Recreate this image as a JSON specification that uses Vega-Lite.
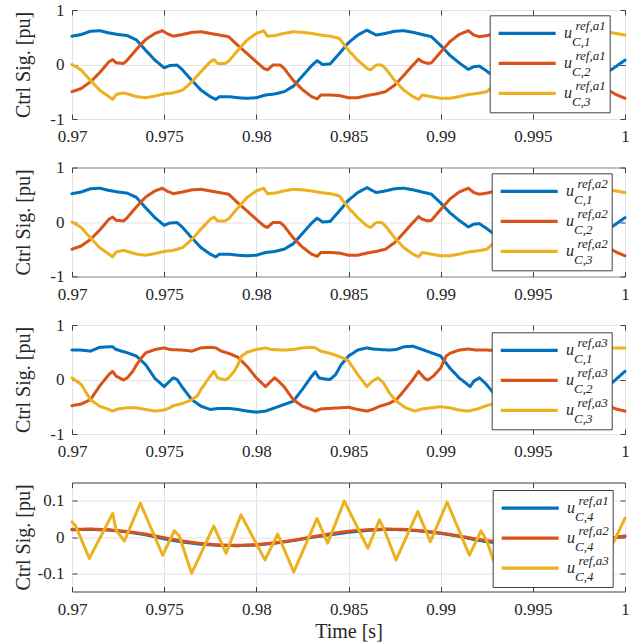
{
"$schema":"https://vega.github.io/schema/vega-lite/v6.json",
"background":"white",
"padding":{"left":12,"top":0,"right":0,"bottom":0},
"bounds":"flush",
"spacing":48.5,
"config":{
 "font":"Liberation Serif",
 "view":{"stroke":"#404040","strokeWidth":1},
 "axis":{"labelFont":"Liberation Serif","labelFontSize":17,"labelColor":"#262626","titleFont":"Liberation Serif","titleFontSize":20,"titleColor":"#262626","titleFontWeight":"normal","domain":false,"tickColor":"#404040","tickSize":-5,"gridColor":"#e3e3e3","gridWidth":1,"labelFlush":false,"labelOverlap":false},
 "axisX":{"labelPadding":14.8},
 "axisY":{"labelPadding":13},
 "legend":{"labelFont":"Liberation Serif","labelColor":"#262626","title":null,"symbolType":"stroke","symbolSize":3249,"symbolStrokeWidth":3.2,"clipHeight":29.3,"rowPadding":0,"padding":3.5,"labelFontStyle":"italic"}
},
"datasets":{
"p1":[
{"t":0.9700,"s":"1","v":0.52},{"t":0.9705,"s":"1","v":0.55},{"t":0.9710,"s":"1","v":0.61},{"t":0.9715,"s":"1","v":0.62},{"t":0.9720,"s":"1","v":0.58},{"t":0.9725,"s":"1","v":0.55},{"t":0.9730,"s":"1","v":0.53},{"t":0.9735,"s":"1","v":0.45},{"t":0.9740,"s":"1","v":0.26},{"t":0.9745,"s":"1","v":0.08},{"t":0.9750,"s":"1","v":-0.06},{"t":0.9753,"s":"1","v":-0.02},{"t":0.9757,"s":"1","v":-0.01},{"t":0.9760,"s":"1","v":-0.10},{"t":0.9765,"s":"1","v":-0.29},{"t":0.9770,"s":"1","v":-0.47},{"t":0.9775,"s":"1","v":-0.59},{"t":0.9778,"s":"1","v":-0.64},{"t":0.9780,"s":"1","v":-0.59},{"t":0.9785,"s":"1","v":-0.59},{"t":0.9790,"s":"1","v":-0.61},{"t":0.9795,"s":"1","v":-0.62},{"t":0.9800,"s":"1","v":-0.61},{"t":0.9805,"s":"1","v":-0.56},{"t":0.9810,"s":"1","v":-0.54},{"t":0.9815,"s":"1","v":-0.50},{"t":0.9820,"s":"1","v":-0.40},{"t":0.9825,"s":"1","v":-0.21},{"t":0.9830,"s":"1","v":-0.02},{"t":0.9833,"s":"1","v":0.07},{"t":0.9836,"s":"1","v":0.00},{"t":0.9840,"s":"1","v":0.01},{"t":0.9845,"s":"1","v":0.20},{"t":0.9850,"s":"1","v":0.40},{"t":0.9855,"s":"1","v":0.54},{"t":0.9860,"s":"1","v":0.63},{"t":0.9865,"s":"1","v":0.54},{"t":0.9870,"s":"1","v":0.57},{"t":0.9875,"s":"1","v":0.61},{"t":0.9880,"s":"1","v":0.62},{"t":0.9885,"s":"1","v":0.59},{"t":0.9890,"s":"1","v":0.55},{"t":0.9895,"s":"1","v":0.51},{"t":0.9900,"s":"1","v":0.35},{"t":0.9905,"s":"1","v":0.17},{"t":0.9910,"s":"1","v":0.03},{"t":0.9915,"s":"1","v":-0.09},{"t":0.9918,"s":"1","v":-0.04},{"t":0.9921,"s":"1","v":-0.03},{"t":0.9925,"s":"1","v":-0.12},{"t":0.9930,"s":"1","v":-0.25},{"t":0.9935,"s":"1","v":-0.42},{"t":0.9940,"s":"1","v":-0.55},{"t":0.9945,"s":"1","v":-0.64},{"t":0.9950,"s":"1","v":-0.59},{"t":0.9955,"s":"1","v":-0.60},{"t":0.9960,"s":"1","v":-0.62},{"t":0.9965,"s":"1","v":-0.61},{"t":0.9970,"s":"1","v":-0.58},{"t":0.9975,"s":"1","v":-0.55},{"t":0.9980,"s":"1","v":-0.52},{"t":0.9985,"s":"1","v":-0.35},{"t":0.9990,"s":"1","v":-0.15},{"t":0.9995,"s":"1","v":-0.04},{"t":1.0000,"s":"1","v":0.08},
{"t":0.9700,"s":"2","v":-0.50},{"t":0.9705,"s":"2","v":-0.44},{"t":0.9710,"s":"2","v":-0.32},{"t":0.9715,"s":"2","v":-0.15},{"t":0.9720,"s":"2","v":0.05},{"t":0.9722,"s":"2","v":0.09},{"t":0.9724,"s":"2","v":0.03},{"t":0.9728,"s":"2","v":0.02},{"t":0.9730,"s":"2","v":0.08},{"t":0.9735,"s":"2","v":0.28},{"t":0.9740,"s":"2","v":0.46},{"t":0.9745,"s":"2","v":0.57},{"t":0.9749,"s":"2","v":0.62},{"t":0.9752,"s":"2","v":0.56},{"t":0.9755,"s":"2","v":0.52},{"t":0.9760,"s":"2","v":0.55},{"t":0.9765,"s":"2","v":0.59},{"t":0.9770,"s":"2","v":0.60},{"t":0.9775,"s":"2","v":0.57},{"t":0.9780,"s":"2","v":0.54},{"t":0.9785,"s":"2","v":0.51},{"t":0.9790,"s":"2","v":0.35},{"t":0.9795,"s":"2","v":0.20},{"t":0.9800,"s":"2","v":0.05},{"t":0.9804,"s":"2","v":-0.07},{"t":0.9806,"s":"2","v":-0.10},{"t":0.9809,"s":"2","v":-0.01},{"t":0.9813,"s":"2","v":-0.01},{"t":0.9815,"s":"2","v":-0.07},{"t":0.9820,"s":"2","v":-0.29},{"t":0.9825,"s":"2","v":-0.46},{"t":0.9830,"s":"2","v":-0.59},{"t":0.9833,"s":"2","v":-0.63},{"t":0.9835,"s":"2","v":-0.56},{"t":0.9840,"s":"2","v":-0.56},{"t":0.9845,"s":"2","v":-0.57},{"t":0.9850,"s":"2","v":-0.61},{"t":0.9855,"s":"2","v":-0.61},{"t":0.9860,"s":"2","v":-0.57},{"t":0.9865,"s":"2","v":-0.54},{"t":0.9870,"s":"2","v":-0.50},{"t":0.9875,"s":"2","v":-0.38},{"t":0.9880,"s":"2","v":-0.20},{"t":0.9885,"s":"2","v":-0.01},{"t":0.9888,"s":"2","v":0.10},{"t":0.9890,"s":"2","v":0.05},{"t":0.9893,"s":"2","v":0.02},{"t":0.9895,"s":"2","v":0.03},{"t":0.9900,"s":"2","v":0.23},{"t":0.9905,"s":"2","v":0.42},{"t":0.9910,"s":"2","v":0.55},{"t":0.9915,"s":"2","v":0.62},{"t":0.9918,"s":"2","v":0.54},{"t":0.9921,"s":"2","v":0.51},{"t":0.9925,"s":"2","v":0.53},{"t":0.9930,"s":"2","v":0.57},{"t":0.9935,"s":"2","v":0.60},{"t":0.9940,"s":"2","v":0.58},{"t":0.9945,"s":"2","v":0.55},{"t":0.9950,"s":"2","v":0.51},{"t":0.9955,"s":"2","v":0.36},{"t":0.9960,"s":"2","v":0.20},{"t":0.9965,"s":"2","v":0.05},{"t":0.9970,"s":"2","v":-0.08},{"t":0.9975,"s":"2","v":0.00},{"t":0.9980,"s":"2","v":-0.05},{"t":0.9985,"s":"2","v":-0.27},{"t":0.9990,"s":"2","v":-0.45},{"t":0.9995,"s":"2","v":-0.55},{"t":1.0000,"s":"2","v":-0.62},
{"t":0.9700,"s":"3","v":0.00},{"t":0.9705,"s":"3","v":-0.10},{"t":0.9710,"s":"3","v":-0.29},{"t":0.9715,"s":"3","v":-0.47},{"t":0.9720,"s":"3","v":-0.59},{"t":0.9722,"s":"3","v":-0.64},{"t":0.9724,"s":"3","v":-0.55},{"t":0.9728,"s":"3","v":-0.52},{"t":0.9730,"s":"3","v":-0.54},{"t":0.9735,"s":"3","v":-0.59},{"t":0.9740,"s":"3","v":-0.61},{"t":0.9745,"s":"3","v":-0.58},{"t":0.9750,"s":"3","v":-0.54},{"t":0.9755,"s":"3","v":-0.52},{"t":0.9760,"s":"3","v":-0.47},{"t":0.9765,"s":"3","v":-0.32},{"t":0.9770,"s":"3","v":-0.13},{"t":0.9775,"s":"3","v":0.05},{"t":0.9777,"s":"3","v":0.09},{"t":0.9779,"s":"3","v":0.02},{"t":0.9783,"s":"3","v":0.02},{"t":0.9785,"s":"3","v":0.06},{"t":0.9790,"s":"3","v":0.26},{"t":0.9795,"s":"3","v":0.45},{"t":0.9800,"s":"3","v":0.57},{"t":0.9804,"s":"3","v":0.62},{"t":0.9806,"s":"3","v":0.52},{"t":0.9810,"s":"3","v":0.53},{"t":0.9815,"s":"3","v":0.57},{"t":0.9820,"s":"3","v":0.60},{"t":0.9825,"s":"3","v":0.59},{"t":0.9830,"s":"3","v":0.57},{"t":0.9835,"s":"3","v":0.54},{"t":0.9840,"s":"3","v":0.52},{"t":0.9845,"s":"3","v":0.48},{"t":0.9850,"s":"3","v":0.26},{"t":0.9855,"s":"3","v":0.08},{"t":0.9860,"s":"3","v":-0.07},{"t":0.9862,"s":"3","v":-0.10},{"t":0.9865,"s":"3","v":-0.01},{"t":0.9868,"s":"3","v":-0.01},{"t":0.9870,"s":"3","v":-0.07},{"t":0.9875,"s":"3","v":-0.29},{"t":0.9880,"s":"3","v":-0.47},{"t":0.9885,"s":"3","v":-0.59},{"t":0.9888,"s":"3","v":-0.64},{"t":0.9890,"s":"3","v":-0.56},{"t":0.9895,"s":"3","v":-0.59},{"t":0.9900,"s":"3","v":-0.62},{"t":0.9905,"s":"3","v":-0.62},{"t":0.9910,"s":"3","v":-0.59},{"t":0.9915,"s":"3","v":-0.55},{"t":0.9920,"s":"3","v":-0.53},{"t":0.9925,"s":"3","v":-0.50},{"t":0.9930,"s":"3","v":-0.35},{"t":0.9935,"s":"3","v":-0.15},{"t":0.9940,"s":"3","v":0.04},{"t":0.9943,"s":"3","v":0.09},{"t":0.9945,"s":"3","v":0.02},{"t":0.9950,"s":"3","v":0.05},{"t":0.9955,"s":"3","v":0.25},{"t":0.9960,"s":"3","v":0.44},{"t":0.9965,"s":"3","v":0.57},{"t":0.9970,"s":"3","v":0.62},{"t":0.9975,"s":"3","v":0.53},{"t":0.9980,"s":"3","v":0.56},{"t":0.9985,"s":"3","v":0.59},{"t":0.9990,"s":"3","v":0.60},{"t":0.9995,"s":"3","v":0.57},{"t":1.0000,"s":"3","v":0.54}
],
"p3":[
{"t":0.9700,"s":"1","v":0.54},{"t":0.9705,"s":"1","v":0.54},{"t":0.9710,"s":"1","v":0.52},{"t":0.9715,"s":"1","v":0.59},{"t":0.9720,"s":"1","v":0.60},{"t":0.9722,"s":"1","v":0.60},{"t":0.9724,"s":"1","v":0.55},{"t":0.9728,"s":"1","v":0.51},{"t":0.9730,"s":"1","v":0.49},{"t":0.9735,"s":"1","v":0.43},{"t":0.9740,"s":"1","v":0.27},{"t":0.9745,"s":"1","v":0.02},{"t":0.9750,"s":"1","v":-0.13},{"t":0.9753,"s":"1","v":-0.03},{"t":0.9755,"s":"1","v":0.03},{"t":0.9757,"s":"1","v":0.00},{"t":0.9760,"s":"1","v":-0.15},{"t":0.9765,"s":"1","v":-0.37},{"t":0.9770,"s":"1","v":-0.49},{"t":0.9775,"s":"1","v":-0.55},{"t":0.9780,"s":"1","v":-0.53},{"t":0.9785,"s":"1","v":-0.53},{"t":0.9790,"s":"1","v":-0.55},{"t":0.9795,"s":"1","v":-0.58},{"t":0.9800,"s":"1","v":-0.60},{"t":0.9805,"s":"1","v":-0.58},{"t":0.9810,"s":"1","v":-0.52},{"t":0.9815,"s":"1","v":-0.46},{"t":0.9820,"s":"1","v":-0.40},{"t":0.9825,"s":"1","v":-0.18},{"t":0.9830,"s":"1","v":0.06},{"t":0.9832,"s":"1","v":0.14},{"t":0.9834,"s":"1","v":0.03},{"t":0.9837,"s":"1","v":0.01},{"t":0.9840,"s":"1","v":0.00},{"t":0.9843,"s":"1","v":0.09},{"t":0.9846,"s":"1","v":0.27},{"t":0.9850,"s":"1","v":0.43},{"t":0.9855,"s":"1","v":0.54},{"t":0.9860,"s":"1","v":0.58},{"t":0.9863,"s":"1","v":0.56},{"t":0.9867,"s":"1","v":0.55},{"t":0.9872,"s":"1","v":0.54},{"t":0.9876,"s":"1","v":0.55},{"t":0.9880,"s":"1","v":0.60},{"t":0.9885,"s":"1","v":0.61},{"t":0.9890,"s":"1","v":0.55},{"t":0.9895,"s":"1","v":0.49},{"t":0.9900,"s":"1","v":0.43},{"t":0.9905,"s":"1","v":0.21},{"t":0.9910,"s":"1","v":0.03},{"t":0.9916,"s":"1","v":-0.13},{"t":0.9918,"s":"1","v":-0.03},{"t":0.9921,"s":"1","v":0.03},{"t":0.9924,"s":"1","v":-0.06},{"t":0.9927,"s":"1","v":-0.18},{"t":0.9930,"s":"1","v":-0.30},{"t":0.9935,"s":"1","v":-0.45},{"t":0.9940,"s":"1","v":-0.52},{"t":0.9945,"s":"1","v":-0.55},{"t":0.9950,"s":"1","v":-0.53},{"t":0.9955,"s":"1","v":-0.54},{"t":0.9960,"s":"1","v":-0.57},{"t":0.9965,"s":"1","v":-0.60},{"t":0.9970,"s":"1","v":-0.59},{"t":0.9975,"s":"1","v":-0.53},{"t":0.9980,"s":"1","v":-0.46},{"t":0.9985,"s":"1","v":-0.38},{"t":0.9990,"s":"1","v":-0.15},{"t":0.9995,"s":"1","v":0.00},{"t":1.0000,"s":"1","v":0.15},
{"t":0.9700,"s":"2","v":-0.48},{"t":0.9705,"s":"2","v":-0.45},{"t":0.9710,"s":"2","v":-0.37},{"t":0.9715,"s":"2","v":-0.12},{"t":0.9720,"s":"2","v":0.09},{"t":0.9722,"s":"2","v":0.15},{"t":0.9724,"s":"2","v":0.06},{"t":0.9728,"s":"2","v":-0.01},{"t":0.9730,"s":"2","v":0.03},{"t":0.9733,"s":"2","v":0.15},{"t":0.9735,"s":"2","v":0.27},{"t":0.9738,"s":"2","v":0.41},{"t":0.9740,"s":"2","v":0.49},{"t":0.9745,"s":"2","v":0.55},{"t":0.9750,"s":"2","v":0.58},{"t":0.9753,"s":"2","v":0.55},{"t":0.9760,"s":"2","v":0.54},{"t":0.9765,"s":"2","v":0.52},{"t":0.9770,"s":"2","v":0.58},{"t":0.9775,"s":"2","v":0.59},{"t":0.9778,"s":"2","v":0.58},{"t":0.9781,"s":"2","v":0.52},{"t":0.9785,"s":"2","v":0.48},{"t":0.9790,"s":"2","v":0.41},{"t":0.9792,"s":"2","v":0.34},{"t":0.9795,"s":"2","v":0.24},{"t":0.9800,"s":"2","v":0.03},{"t":0.9805,"s":"2","v":-0.13},{"t":0.9808,"s":"2","v":-0.03},{"t":0.9810,"s":"2","v":0.03},{"t":0.9812,"s":"2","v":-0.03},{"t":0.9815,"s":"2","v":-0.13},{"t":0.9820,"s":"2","v":-0.37},{"t":0.9825,"s":"2","v":-0.49},{"t":0.9830,"s":"2","v":-0.55},{"t":0.9832,"s":"2","v":-0.58},{"t":0.9835,"s":"2","v":-0.54},{"t":0.9840,"s":"2","v":-0.53},{"t":0.9845,"s":"2","v":-0.52},{"t":0.9850,"s":"2","v":-0.51},{"t":0.9855,"s":"2","v":-0.55},{"t":0.9860,"s":"2","v":-0.58},{"t":0.9863,"s":"2","v":-0.55},{"t":0.9867,"s":"2","v":-0.49},{"t":0.9872,"s":"2","v":-0.44},{"t":0.9876,"s":"2","v":-0.37},{"t":0.9880,"s":"2","v":-0.21},{"t":0.9885,"s":"2","v":0.00},{"t":0.9888,"s":"2","v":0.15},{"t":0.9891,"s":"2","v":0.03},{"t":0.9893,"s":"2","v":-0.01},{"t":0.9896,"s":"2","v":0.06},{"t":0.9900,"s":"2","v":0.21},{"t":0.9903,"s":"2","v":0.43},{"t":0.9905,"s":"2","v":0.48},{"t":0.9910,"s":"2","v":0.54},{"t":0.9915,"s":"2","v":0.56},{"t":0.9919,"s":"2","v":0.54},{"t":0.9925,"s":"2","v":0.54},{"t":0.9930,"s":"2","v":0.53},{"t":0.9935,"s":"2","v":0.55},{"t":0.9940,"s":"2","v":0.58},{"t":0.9945,"s":"2","v":0.58},{"t":0.9950,"s":"2","v":0.50},{"t":0.9955,"s":"2","v":0.41},{"t":0.9960,"s":"2","v":0.25},{"t":0.9965,"s":"2","v":0.03},{"t":0.9970,"s":"2","v":-0.13},{"t":0.9975,"s":"2","v":0.03},{"t":0.9980,"s":"2","v":-0.10},{"t":0.9985,"s":"2","v":-0.35},{"t":0.9990,"s":"2","v":-0.47},{"t":0.9995,"s":"2","v":-0.54},{"t":1.0000,"s":"2","v":-0.58},
{"t":0.9700,"s":"3","v":0.03},{"t":0.9705,"s":"3","v":-0.09},{"t":0.9710,"s":"3","v":-0.37},{"t":0.9715,"s":"3","v":-0.49},{"t":0.9720,"s":"3","v":-0.55},{"t":0.9722,"s":"3","v":-0.58},{"t":0.9725,"s":"3","v":-0.54},{"t":0.9730,"s":"3","v":-0.52},{"t":0.9735,"s":"3","v":-0.52},{"t":0.9740,"s":"3","v":-0.55},{"t":0.9745,"s":"3","v":-0.58},{"t":0.9750,"s":"3","v":-0.56},{"t":0.9753,"s":"3","v":-0.52},{"t":0.9755,"s":"3","v":-0.48},{"t":0.9760,"s":"3","v":-0.44},{"t":0.9765,"s":"3","v":-0.37},{"t":0.9768,"s":"3","v":-0.30},{"t":0.9770,"s":"3","v":-0.18},{"t":0.9775,"s":"3","v":0.06},{"t":0.9777,"s":"3","v":0.15},{"t":0.9779,"s":"3","v":0.03},{"t":0.9783,"s":"3","v":-0.01},{"t":0.9785,"s":"3","v":0.03},{"t":0.9788,"s":"3","v":0.15},{"t":0.9790,"s":"3","v":0.27},{"t":0.9792,"s":"3","v":0.43},{"t":0.9795,"s":"3","v":0.50},{"t":0.9800,"s":"3","v":0.55},{"t":0.9805,"s":"3","v":0.58},{"t":0.9808,"s":"3","v":0.55},{"t":0.9815,"s":"3","v":0.54},{"t":0.9820,"s":"3","v":0.55},{"t":0.9825,"s":"3","v":0.58},{"t":0.9830,"s":"3","v":0.59},{"t":0.9832,"s":"3","v":0.58},{"t":0.9835,"s":"3","v":0.52},{"t":0.9840,"s":"3","v":0.48},{"t":0.9845,"s":"3","v":0.42},{"t":0.9848,"s":"3","v":0.38},{"t":0.9850,"s":"3","v":0.34},{"t":0.9855,"s":"3","v":0.09},{"t":0.9860,"s":"3","v":-0.13},{"t":0.9863,"s":"3","v":-0.03},{"t":0.9866,"s":"3","v":0.03},{"t":0.9869,"s":"3","v":-0.06},{"t":0.9872,"s":"3","v":-0.24},{"t":0.9876,"s":"3","v":-0.40},{"t":0.9881,"s":"3","v":-0.52},{"t":0.9886,"s":"3","v":-0.58},{"t":0.9890,"s":"3","v":-0.54},{"t":0.9895,"s":"3","v":-0.52},{"t":0.9900,"s":"3","v":-0.50},{"t":0.9905,"s":"3","v":-0.52},{"t":0.9910,"s":"3","v":-0.56},{"t":0.9915,"s":"3","v":-0.58},{"t":0.9920,"s":"3","v":-0.54},{"t":0.9924,"s":"3","v":-0.49},{"t":0.9927,"s":"3","v":-0.46},{"t":0.9930,"s":"3","v":-0.40},{"t":0.9935,"s":"3","v":-0.22},{"t":0.9940,"s":"3","v":0.05},{"t":0.9943,"s":"3","v":0.15},{"t":0.9945,"s":"3","v":0.03},{"t":0.9950,"s":"3","v":0.00},{"t":0.9953,"s":"3","v":0.15},{"t":0.9955,"s":"3","v":0.27},{"t":0.9958,"s":"3","v":0.45},{"t":0.9962,"s":"3","v":0.52},{"t":0.9967,"s":"3","v":0.56},{"t":0.9972,"s":"3","v":0.58},{"t":0.9975,"s":"3","v":0.55},{"t":0.9980,"s":"3","v":0.54},{"t":0.9985,"s":"3","v":0.55},{"t":0.9990,"s":"3","v":0.58},{"t":0.9995,"s":"3","v":0.58},{"t":1.0000,"s":"3","v":0.58}
],
"p4":[
{"t":0.970,"s":"1","v":0.020},{"t":0.971,"s":"1","v":0.021},{"t":0.972,"s":"1","v":0.019},{"t":0.973,"s":"1","v":0.014},{"t":0.974,"s":"1","v":0.006},{"t":0.975,"s":"1","v":-0.005},{"t":0.976,"s":"1","v":-0.014},{"t":0.977,"s":"1","v":-0.020},{"t":0.978,"s":"1","v":-0.023},{"t":0.979,"s":"1","v":-0.024},{"t":0.980,"s":"1","v":-0.022},{"t":0.981,"s":"1","v":-0.017},{"t":0.982,"s":"1","v":-0.010},{"t":0.983,"s":"1","v":-0.001},{"t":0.984,"s":"1","v":0.006},{"t":0.985,"s":"1","v":0.013},{"t":0.986,"s":"1","v":0.018},{"t":0.987,"s":"1","v":0.021},{"t":0.988,"s":"1","v":0.020},{"t":0.989,"s":"1","v":0.016},{"t":0.990,"s":"1","v":0.010},{"t":0.991,"s":"1","v":0.002},{"t":0.992,"s":"1","v":-0.009},{"t":0.993,"s":"1","v":-0.016},{"t":0.994,"s":"1","v":-0.021},{"t":0.995,"s":"1","v":-0.023},{"t":0.996,"s":"1","v":-0.023},{"t":0.997,"s":"1","v":-0.020},{"t":0.998,"s":"1","v":-0.014},{"t":0.999,"s":"1","v":-0.005},{"t":1.000,"s":"1","v":0.002},
{"t":0.970,"s":"2","v":0.021},{"t":0.971,"s":"2","v":0.022},{"t":0.972,"s":"2","v":0.020},{"t":0.973,"s":"2","v":0.015},{"t":0.974,"s":"2","v":0.008},{"t":0.975,"s":"2","v":-0.002},{"t":0.976,"s":"2","v":-0.011},{"t":0.977,"s":"2","v":-0.018},{"t":0.978,"s":"2","v":-0.022},{"t":0.979,"s":"2","v":-0.023},{"t":0.980,"s":"2","v":-0.021},{"t":0.981,"s":"2","v":-0.016},{"t":0.982,"s":"2","v":-0.009},{"t":0.983,"s":"2","v":0.000},{"t":0.984,"s":"2","v":0.009},{"t":0.985,"s":"2","v":0.016},{"t":0.986,"s":"2","v":0.020},{"t":0.987,"s":"2","v":0.022},{"t":0.988,"s":"2","v":0.021},{"t":0.989,"s":"2","v":0.017},{"t":0.990,"s":"2","v":0.011},{"t":0.991,"s":"2","v":0.003},{"t":0.992,"s":"2","v":-0.006},{"t":0.993,"s":"2","v":-0.013},{"t":0.994,"s":"2","v":-0.019},{"t":0.995,"s":"2","v":-0.022},{"t":0.996,"s":"2","v":-0.022},{"t":0.997,"s":"2","v":-0.019},{"t":0.998,"s":"2","v":-0.013},{"t":0.999,"s":"2","v":-0.004},{"t":1.000,"s":"2","v":0.003},
{"t":0.97000,"s":"3","v":0.042},{"t":0.97020,"s":"3","v":0.030},{"t":0.97094,"s":"3","v":-0.059},{"t":0.97221,"s":"3","v":0.065},{"t":0.97239,"s":"3","v":0.019},{"t":0.97284,"s":"3","v":-0.011},{"t":0.97371,"s":"3","v":0.093},{"t":0.97492,"s":"3","v":-0.050},{"t":0.97555,"s":"3","v":0.017},{"t":0.97582,"s":"3","v":0.003},{"t":0.97649,"s":"3","v":-0.100},{"t":0.97769,"s":"3","v":0.030},{"t":0.97836,"s":"3","v":-0.045},{"t":0.97917,"s":"3","v":0.061},{"t":0.98047,"s":"3","v":-0.063},{"t":0.98116,"s":"3","v":0.008},{"t":0.98203,"s":"3","v":-0.096},{"t":0.98329,"s":"3","v":0.051},{"t":0.98387,"s":"3","v":-0.017},{"t":0.98477,"s":"3","v":0.099},{"t":0.98605,"s":"3","v":-0.031},{"t":0.98668,"s":"3","v":0.047},{"t":0.98695,"s":"3","v":0.019},{"t":0.98758,"s":"3","v":-0.063},{"t":0.98876,"s":"3","v":0.070},{"t":0.98944,"s":"3","v":-0.013},{"t":0.99035,"s":"3","v":0.096},{"t":0.99156,"s":"3","v":-0.050},{"t":0.99219,"s":"3","v":0.017},{"t":0.99250,"s":"3","v":-0.010},{"t":0.99310,"s":"3","v":-0.100},{"t":0.99430,"s":"3","v":0.030},{"t":0.99500,"s":"3","v":-0.045},{"t":0.99585,"s":"3","v":0.061},{"t":0.99715,"s":"3","v":-0.063},{"t":0.99785,"s":"3","v":0.008},{"t":0.99865,"s":"3","v":-0.092},{"t":1.00000,"s":"3","v":0.052}
]
},
"resolve":{"scale":{"color":"independent","strokeDash":"independent","opacity":"independent"},"legend":{"color":"independent","strokeDash":"independent","opacity":"independent"}},
"vconcat":[
{"width":553,"height":109,"data":{"name":"p1"},
 "resolve":{"axis":{"x":"independent","y":"independent"}},
 "layer":[
  {"mark":{"type":"line","strokeWidth":3,"strokeJoin":"round","strokeCap":"round"},
   "encoding":{
    "x":{"field":"t","type":"quantitative","scale":{"domain":[0.97,1],"nice":false,"zero":false},"axis":{"values":[0.97,0.975,0.98,0.985,0.99,0.995,1],"labelExpr":"'' + datum.value","title":null,"grid":true}},
    "y":{"field":"v","type":"quantitative","scale":{"domain":[-1,1],"nice":false,"zero":false},"axis":{"values":[-1,0,1],"labelExpr":"'' + datum.value","title":"Ctrl Sig. [pu]","titleX":-49,"titleBaseline":"middle","grid":true}},
    "color":{"field":"s","type":"nominal","scale":{"domain":["1","2","3"],"range":["#0072BD","#D95319","#EDB120"]},"legend":{"orient":"none","legendX":417.7,"legendY":5.3,"symbolOffset":3.5,"labelOffset":17.8,"labelExpr":"'ref,a1'","labelFontSize":13,"labelBaseline":"bottom","strokeColor":"#404040","fillColor":"#ffffff"}},
    "strokeDash":{"field":"s","type":"nominal","scale":{"domain":{"unionWith":["1"]},"range":[[1,0],[1,0],[1,0]]},"legend":{"orient":"none","legendX":417.7,"legendY":5.3,"symbolOpacity":0,"symbolStrokeColor":"transparent","labelOffset":9.8,"labelExpr":"'u'","labelFontSize":16}},
    "opacity":{"field":"s","type":"nominal","scale":{"range":[1,1,1]},"legend":{"orient":"none","legendX":417.7,"legendY":14.3,"symbolOpacity":0,"symbolStrokeColor":"transparent","labelOffset":17.8,"labelExpr":"'C,' + datum.label","labelFontSize":13}}
   }},
  {"mark":{"type":"point","opacity":0},
   "encoding":{
    "x":{"field":"t","type":"quantitative","axis":{"orient":"top","values":[0.97,0.975,0.98,0.985,0.99,0.995,1],"labels":false,"grid":false,"title":null}},
    "y":{"field":"v","type":"quantitative","axis":{"orient":"right","values":[-1,0,1],"labels":false,"grid":false,"title":null}}
   }}
 ]},
{"width":553,"height":109,"data":{"name":"p1"},
 "resolve":{"axis":{"x":"independent","y":"independent"}},
 "layer":[
  {"mark":{"type":"line","strokeWidth":3,"strokeJoin":"round","strokeCap":"round"},
   "encoding":{
    "x":{"field":"t","type":"quantitative","scale":{"domain":[0.97,1],"nice":false,"zero":false},"axis":{"values":[0.97,0.975,0.98,0.985,0.99,0.995,1],"labelExpr":"'' + datum.value","title":null,"grid":true}},
    "y":{"field":"v","type":"quantitative","scale":{"domain":[-1,1],"nice":false,"zero":false},"axis":{"values":[-1,0,1],"labelExpr":"'' + datum.value","title":"Ctrl Sig. [pu]","titleX":-49,"titleBaseline":"middle","grid":true}},
    "color":{"field":"s","type":"nominal","scale":{"domain":["1","2","3"],"range":["#0072BD","#D95319","#EDB120"]},"legend":{"orient":"none","legendX":419.7,"legendY":5.8,"symbolOffset":3.5,"labelOffset":17.8,"labelExpr":"'ref,a2'","labelFontSize":13,"labelBaseline":"bottom","strokeColor":"#404040","fillColor":"#ffffff"}},
    "strokeDash":{"field":"s","type":"nominal","scale":{"domain":{"unionWith":["1"]},"range":[[1,0],[1,0],[1,0]]},"legend":{"orient":"none","legendX":419.7,"legendY":5.8,"symbolOpacity":0,"symbolStrokeColor":"transparent","labelOffset":9.8,"labelExpr":"'u'","labelFontSize":16}},
    "opacity":{"field":"s","type":"nominal","scale":{"range":[1,1,1]},"legend":{"orient":"none","legendX":419.7,"legendY":14.8,"symbolOpacity":0,"symbolStrokeColor":"transparent","labelOffset":17.8,"labelExpr":"'C,' + datum.label","labelFontSize":13}}
   }},
  {"mark":{"type":"point","opacity":0},
   "encoding":{
    "x":{"field":"t","type":"quantitative","axis":{"orient":"top","values":[0.97,0.975,0.98,0.985,0.99,0.995,1],"labels":false,"grid":false,"title":null}},
    "y":{"field":"v","type":"quantitative","axis":{"orient":"right","values":[-1,0,1],"labels":false,"grid":false,"title":null}}
   }}
 ]},
{"width":553,"height":109,"data":{"name":"p3"},
 "resolve":{"axis":{"x":"independent","y":"independent"}},
 "layer":[
  {"mark":{"type":"line","strokeWidth":3,"strokeJoin":"round","strokeCap":"round"},
   "encoding":{
    "x":{"field":"t","type":"quantitative","scale":{"domain":[0.97,1],"nice":false,"zero":false},"axis":{"values":[0.97,0.975,0.98,0.985,0.99,0.995,1],"labelExpr":"'' + datum.value","title":null,"grid":true}},
    "y":{"field":"v","type":"quantitative","scale":{"domain":[-1,1],"nice":false,"zero":false},"axis":{"values":[-1,0,1],"labelExpr":"'' + datum.value","title":"Ctrl Sig. [pu]","titleX":-49,"titleBaseline":"middle","grid":true}},
    "color":{"field":"s","type":"nominal","scale":{"domain":["1","2","3"],"range":["#0072BD","#D95319","#EDB120"]},"legend":{"orient":"none","legendX":419.7,"legendY":7.3,"symbolOffset":3.5,"labelOffset":17.8,"labelExpr":"'ref,a3'","labelFontSize":13,"labelBaseline":"bottom","strokeColor":"#404040","fillColor":"#ffffff"}},
    "strokeDash":{"field":"s","type":"nominal","scale":{"domain":{"unionWith":["1"]},"range":[[1,0],[1,0],[1,0]]},"legend":{"orient":"none","legendX":419.7,"legendY":7.3,"symbolOpacity":0,"symbolStrokeColor":"transparent","labelOffset":9.8,"labelExpr":"'u'","labelFontSize":16}},
    "opacity":{"field":"s","type":"nominal","scale":{"range":[1,1,1]},"legend":{"orient":"none","legendX":419.7,"legendY":16.3,"symbolOpacity":0,"symbolStrokeColor":"transparent","labelOffset":17.8,"labelExpr":"'C,' + datum.label","labelFontSize":13}}
   }},
  {"mark":{"type":"point","opacity":0},
   "encoding":{
    "x":{"field":"t","type":"quantitative","axis":{"orient":"top","values":[0.97,0.975,0.98,0.985,0.99,0.995,1],"labels":false,"grid":false,"title":null}},
    "y":{"field":"v","type":"quantitative","axis":{"orient":"right","values":[-1,0,1],"labels":false,"grid":false,"title":null}}
   }}
 ]},
{"width":553,"height":109,"data":{"name":"p4"},
 "resolve":{"axis":{"x":"independent","y":"independent"}},
 "layer":[
  {"mark":{"type":"line","strokeWidth":3,"strokeJoin":"round","strokeCap":"round"},
   "encoding":{
    "x":{"field":"t","type":"quantitative","scale":{"domain":[0.97,1],"nice":false,"zero":false},"axis":{"values":[0.97,0.975,0.98,0.985,0.99,0.995,1],"labelExpr":"'' + datum.value","title":"Time [s]","titleY":40,"titleBaseline":"middle","grid":true}},
    "y":{"field":"v","type":"quantitative","scale":{"domain":[-0.15,0.15],"nice":false,"zero":false},"axis":{"values":[-0.1,0,0.1],"labelExpr":"'' + datum.value","title":"Ctrl Sig. [pu]","titleX":-49,"titleBaseline":"middle","grid":true}},
    "color":{"field":"s","type":"nominal","scale":{"domain":["1","2","3"],"range":["#0072BD","#D95319","#EDB120"]},"legend":{"orient":"none","legendX":420.7,"legendY":7.5,"symbolOffset":3.5,"labelOffset":17.8,"labelExpr":"'ref,a' + datum.label","labelFontSize":13,"labelBaseline":"bottom","strokeColor":"#404040","fillColor":"#ffffff"}},
    "strokeDash":{"field":"s","type":"nominal","scale":{"domain":{"unionWith":["1"]},"range":[[1,0],[1,0],[1,0]]},"legend":{"orient":"none","legendX":420.7,"legendY":7.5,"symbolOpacity":0,"symbolStrokeColor":"transparent","labelOffset":9.8,"labelExpr":"'u'","labelFontSize":16}},
    "opacity":{"field":"s","type":"nominal","scale":{"range":[1,1,1]},"legend":{"orient":"none","legendX":420.7,"legendY":16.5,"symbolOpacity":0,"symbolStrokeColor":"transparent","labelOffset":17.8,"labelExpr":"'C,4'","labelFontSize":13}}
   }},
  {"mark":{"type":"point","opacity":0},
   "encoding":{
    "x":{"field":"t","type":"quantitative","axis":{"orient":"top","values":[0.97,0.975,0.98,0.985,0.99,0.995,1],"labels":false,"grid":false,"title":null}},
    "y":{"field":"v","type":"quantitative","axis":{"orient":"right","values":[-0.1,0,0.1],"labels":false,"grid":false,"title":null}}
   }}
 ]}
]
}
